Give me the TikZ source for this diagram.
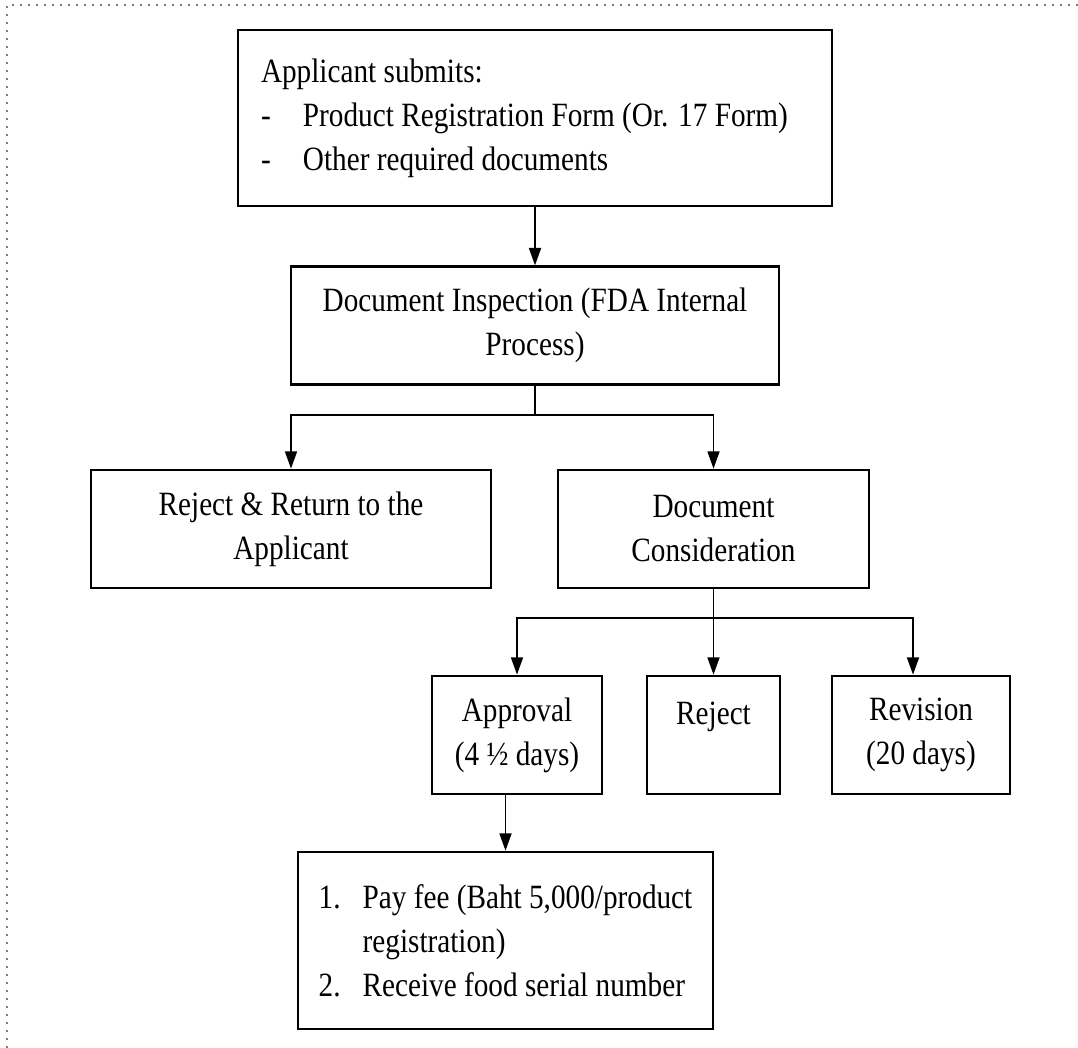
\documentclass[tikz,border=0pt]{standalone}
\usepackage{fontspec}
\setmainfont{Liberation Serif}[FakeStretch=0.86]
\usetikzlibrary{arrows.meta,positioning}

\begin{document}
\begin{tikzpicture}[
    x=0.75pt, y=-0.75pt,
    mybox/.style={
    rectangle,
    draw=black,
    line width=2pt,
    inner sep=0pt,
    minimum height=88.5pt,
    font=\fontsize{25.5}{33}\selectfont,
    align=center},
    myarrow/.style={-{Triangle[length=13pt,width=9pt]},line width=1.3pt},
    node distance=43.5pt
    ]
    \useasboundingbox (0,0) rectangle (1078,1048);
    \draw[gray, line width=1.2pt, dash pattern=on 1.2pt off 4.8pt] (7,1048) -- (7,5) -- (1078,5);

    \node[mybox, minimum width=445.5pt, minimum height=132pt, text width=440pt, align=flush left] (submit) at (535,118)
        {\hspace*{14.5pt}Applicant submits:\\
         \hspace*{14.5pt}\makebox[31.5pt][l]{-}Product Registration Form (Or. 17 Form)\\
         \hspace*{14.5pt}\makebox[31.5pt][l]{-}Other required documents};
    \node[mybox, minimum width=366pt, below = of submit] (inspect) {Document Inspection (FDA Internal\\Process)};
    \node[mybox, minimum width=300pt] (returned) at (291,529) {Reject \& Return to the\\Applicant};
    \node[mybox, minimum width=233.25pt] (consider) at (713.5,529) {Document\\Consideration};
    \node[mybox, minimum width=127.5pt] (approve) at (517,735) {Approval\\(4 ½ days)};
    \node[mybox, minimum width=99.75pt] (reject) at (713.5,735) {Reject\\\phantom{R}};
    \node[mybox, minimum width=133.5pt] (revise) at (921,735) {Revision\\(20 days)};
    \node[mybox, minimum width=311.25pt, minimum height=132.75pt, align=left] (fee) at (505.5,940.5)
        {\makebox[33pt][l]{1.}Pay fee (Baht 5,000/product\\
         \hspace*{33pt}registration)\\
         \makebox[33pt][l]{2.}Receive food serial number};

    \draw[myarrow] (submit) -- (inspect);
    \draw[myarrow] (inspect.south) -- ++(0,29) -| (returned.north);
    \draw[myarrow] (inspect.south) -- ++(0,29) -| (consider.north);
    \draw[myarrow] (consider.south) -- ++(0,29) -| (approve.north);
    \draw[myarrow] (consider.south) -- (reject.north);
    \draw[myarrow] (consider.south) -- ++(0,29) -| ([xshift=-6pt]revise.north);
    \draw[myarrow] (approve.south -| fee.north) -- (fee.north);
\end{tikzpicture}
\end{document}
